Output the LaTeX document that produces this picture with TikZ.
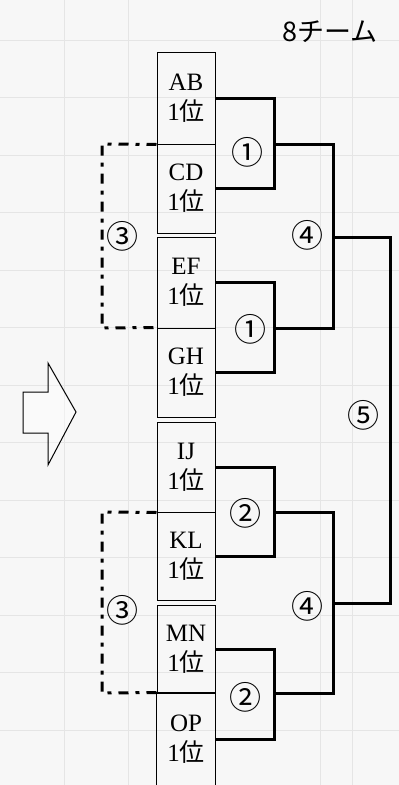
\documentclass[tikz,border=0pt]{standalone}
\usepackage{fontspec}
\setmainfont{Liberation Serif}
\newfontfamily\jp{Noto Sans CJK JP}
\begin{document}
\begin{tikzpicture}[x=1pt,y=-1pt,
  teambox/.style={draw, line width=1pt, minimum width=58pt, inner sep=0pt, align=center, font=\fontsize{25}{30}\selectfont},
  br/.style={line width=3pt, line join=miter},
  dd/.style={line width=3pt, dash pattern=on 10pt off 7pt on 4pt off 7pt},
  rnd/.style={font=\jp\fontsize{32}{32}\selectfont, inner sep=0pt},
  gridline/.style={draw=black!10, line width=0.8pt},
  blockarrow/.style={draw, line width=1pt, line join=miter, fill=white, fill opacity=0.4}]
\useasboundingbox (0,0) rectangle (399,785);
\fill[black!3] (0,0) rectangle (399,785);
% faint notebook grid
\foreach \yy in {40,97.5,155,212.5,270,327.5,385,442.5,500,557.5,615,672.5,730}
  \draw[gridline] (0,\yy) -- (399,\yy);
\foreach \xx in {64,128,320,352}
  \draw[gridline] (\xx,0) -- (\xx,785);
% title
\node[font=\jp\fontsize{27}{27}\selectfont, inner sep=0pt] (title) at (330,32) {8チーム};
% team boxes
\node[teambox, minimum height=92pt] (AB) at (186,98) {AB\\1{\jp 位}};
\node[teambox, minimum height=89pt] (CD) at (186,188.5) {CD\\1{\jp 位}};
\node[teambox, minimum height=91pt] (EF) at (186,282.5) {EF\\1{\jp 位}};
\node[teambox, minimum height=89pt] (GH) at (186,372.5) {GH\\1{\jp 位}};
\node[teambox, minimum height=90pt] (IJ) at (186,467) {IJ\\1{\jp 位}};
\node[teambox, minimum height=88pt] (KL) at (186,556) {KL\\1{\jp 位}};
\node[teambox, minimum height=88pt] (MN) at (186,649) {MN\\1{\jp 位}};
\node[teambox, draw=none, minimum height=92pt] (OP) at (186,739) {OP\\1{\jp 位}};
\draw[line width=1pt] (OP.south west) -- (OP.north west) -- (OP.north east) -- (OP.south east);
% junctions
\coordinate (j1) at (274,144);
\coordinate (j2) at (274,328);
\coordinate (j3) at (274,512);
\coordinate (j4) at (274,693);
\coordinate (k1) at (333,237);
\coordinate (k2) at (333,603);
\coordinate (f) at (390,415);
% brackets
\draw[br] (AB.east) -| (j1) |- (CD.east);
\draw[br] (EF.east) -| (j2) |- (GH.east);
\draw[br] (IJ.east) -| (j3) |- (KL.east);
\draw[br] (MN.east) -| (j4) |- (OP.east);
\draw[br] (j1) -| (k1) |- (j2);
\draw[br] (j3) -| (k2) |- (j4);
\draw[br] (k1) -| (f) |- (k2);
% dash-dot side links
\coordinate (d1) at (102,144);
\coordinate (d2) at (102,328);
\coordinate (d3) at (102,512);
\coordinate (d4) at (102,693);
\draw[dd] (AB.south west) -- (d1) -- (d2) -- (GH.north west);
\draw[dd] (IJ.south west) -- (d3) -- (d4) -- (OP.north west);
% round labels
\node[rnd] (r1a) at (247,152) {①};
\node[rnd] (r1b) at (250,329) {①};
\node[rnd] (r2a) at (245,513) {②};
\node[rnd] (r2b) at (245,697) {②};
\node[rnd] (r3a) at (122,236) {③};
\node[rnd] (r3b) at (122,610) {③};
\node[rnd] (r4a) at (307,235) {④};
\node[rnd] (r4b) at (307,606) {④};
\node[rnd] (r5) at (363,415) {⑤};
% block arrow
\draw[blockarrow] (23,392) -- (48,392) -- (48,363) -- (76,412) -- (48,465) -- (48,433) -- (23,433) -- cycle;
\end{tikzpicture}
\end{document}
